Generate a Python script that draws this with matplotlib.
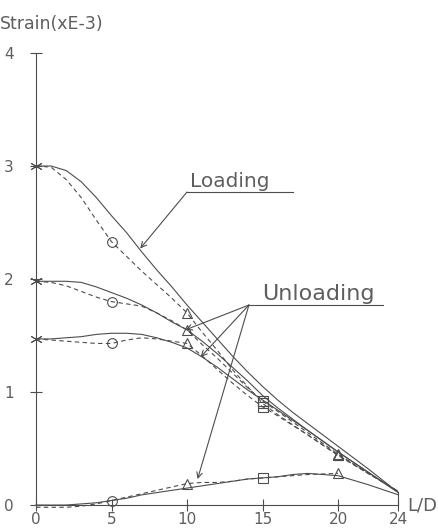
import numpy as np
import matplotlib
matplotlib.use("Agg")
import matplotlib.pyplot as plt

# strain along the pile, L/D positions
x_calc = [0, 1, 2, 3, 4, 5, 6, 7, 8, 9, 10, 11, 12, 13, 14, 15, 16, 17, 18, 20, 22, 24]
x_exp = [0, 1, 2, 3, 4, 5, 6, 7, 8, 9, 10, 11, 12, 13, 14, 15, 16, 18, 20, 22, 24]

# calculated (solid) loading curves
calc_high = [3.00, 3.00, 2.96, 2.86, 2.72, 2.56, 2.41, 2.24, 2.08, 1.93, 1.77, 1.62,
             1.47, 1.32, 1.18, 1.05, 0.93, 0.82, 0.72, 0.52, 0.32, 0.11]
calc_mid = [1.98, 1.98, 1.98, 1.97, 1.93, 1.88, 1.83, 1.77, 1.70, 1.62, 1.55, 1.45,
            1.34, 1.22, 1.10, 0.97, 0.86, 0.76, 0.66, 0.47, 0.29, 0.11]
calc_low = [1.47, 1.47, 1.48, 1.49, 1.51, 1.52, 1.52, 1.51, 1.48, 1.44, 1.39, 1.31,
            1.22, 1.12, 1.02, 0.93, 0.84, 0.75, 0.66, 0.47, 0.29, 0.11]

# measured (dashed) loading curves
exp_high = [3.00, 2.99, 2.88, 2.72, 2.52, 2.33, 2.20, 2.07, 1.95, 1.83, 1.70, 1.53,
            1.37, 1.20, 1.05, 0.90, 0.80, 0.62, 0.44, 0.28, 0.12]
exp_mid = [1.98, 1.97, 1.94, 1.89, 1.84, 1.80, 1.78, 1.76, 1.70, 1.63, 1.55, 1.42,
           1.30, 1.17, 1.04, 0.92, 0.83, 0.64, 0.45, 0.28, 0.12]
exp_low = [1.47, 1.46, 1.45, 1.44, 1.43, 1.43, 1.46, 1.48, 1.47, 1.45, 1.43, 1.32,
           1.20, 1.08, 0.97, 0.87, 0.79, 0.62, 0.44, 0.28, 0.12]

# unloading
x_unl = [0, 1, 2, 3, 4, 5, 6, 7, 8, 9, 10, 11, 12, 13, 14, 15, 16, 17, 18, 19, 20, 22, 24]
calc_unl = [0.00, 0.00, 0.00, 0.01, 0.02, 0.04, 0.06, 0.09, 0.11, 0.13, 0.15, 0.17,
            0.19, 0.21, 0.23, 0.24, 0.25, 0.27, 0.28, 0.27, 0.26, 0.18, 0.09]
x_unl_exp = [0, 1, 2, 3, 4, 5, 6, 7, 8, 9, 10, 11, 12, 13, 14, 15, 16, 18, 20]
exp_unl = [-0.02, -0.02, -0.02, -0.01, 0.01, 0.04, 0.07, 0.10, 0.13, 0.16, 0.19, 0.20,
           0.20, 0.21, 0.23, 0.24, 0.25, 0.27, 0.28]

# gauge positions and their symbols
gauge_x = [5, 10, 15, 20]
gauge_mk = ['o', '^', 's', '^']

xticks = [0, 5, 10, 15, 20, 24]
yticks = [0, 1, 2, 3, 4]

ink = '#4d4d4d'
txt = '#5e5e5e'

fig = plt.figure(figsize=(4.38, 5.29), dpi=100)
ax = fig.add_axes([0, 0, 1, 1])
ax.set_xlim(-2.384, 26.62)
ax.set_ylim(-0.212, 4.469)

for s in ['top', 'right']:
    ax.spines[s].set_visible(False)
ax.spines['left'].set_position(('data', 0))
ax.spines['bottom'].set_position(('data', 0))
ax.spines['left'].set_bounds(0, 4)
ax.spines['bottom'].set_bounds(0, 24)
for s in ['left', 'bottom']:
    ax.spines[s].set_color(ink)
    ax.spines[s].set_linewidth(0.8)

ax.set_xticks(xticks)
ax.set_yticks(yticks)
ax.tick_params(direction='inout', length=8, width=0.8, color=ink,
               labelcolor=txt, labelsize=11)
ax.tick_params(axis='y', pad=12)
ax.tick_params(axis='x', pad=1)

lw = 0.8
for y in [calc_high, calc_mid, calc_low]:
    ax.plot(x_calc, y, '-', color=ink, lw=lw)
ax.plot(x_unl, calc_unl, '-', color=ink, lw=lw)

for y in [exp_high, exp_mid, exp_low]:
    ax.plot(x_exp, y, '--', color=ink, lw=lw, dashes=(4, 3))
    for gx, mk in zip(gauge_x, gauge_mk):
        ax.plot(gx, y[x_exp.index(gx)], mk, ms=7, mfc='none', mec=ink, mew=0.8)
    ax.plot(0, y[0], marker=(6, 2, 0), ms=9, color=ink, mew=0.7)
ax.plot(x_unl_exp, exp_unl, '--', color=ink, lw=lw, dashes=(4, 3))
for gx, mk in zip(gauge_x, gauge_mk):
    ax.plot(gx, exp_unl[x_unl_exp.index(gx)], mk, ms=7, mfc='none', mec=ink, mew=0.8)

# pile tip
ax.plot([24, 24], [0, calc_high[-1]], '-', color=ink, lw=lw)

arrow = dict(arrowstyle='->', color=ink, lw=0.8, shrinkA=0, shrinkB=0)

# Loading label
ax.plot([10.0, 17.0], [2.77, 2.77], color=ink, lw=lw)
ax.text(10.2, 2.81, 'Loading', color=txt, fontsize=14.5, va='baseline', ha='left')
ax.annotate('', xy=(6.9, 2.27), xytext=(10.0, 2.77), arrowprops=arrow)

# Unloading label
ax.plot([14.1, 23.0], [1.77, 1.77], color=ink, lw=lw)
ax.text(15.0, 1.81, 'Unloading', color=txt, fontsize=16, va='baseline', ha='left')
for tip in [(9.9, 1.55), (10.9, 1.31), (10.7, 0.23)]:
    ax.annotate('', xy=tip, xytext=(14.1, 1.77), arrowprops=arrow)

ax.text(24.6, 0, 'L/D', color=txt, fontsize=13, va='center', ha='left')
ax.text(0.0, 0.955, 'Strain(xE-3)', transform=ax.transAxes, color=txt,
        fontsize=12.5, va='center', ha='left')

fig.savefig('out.png', dpi=100)
